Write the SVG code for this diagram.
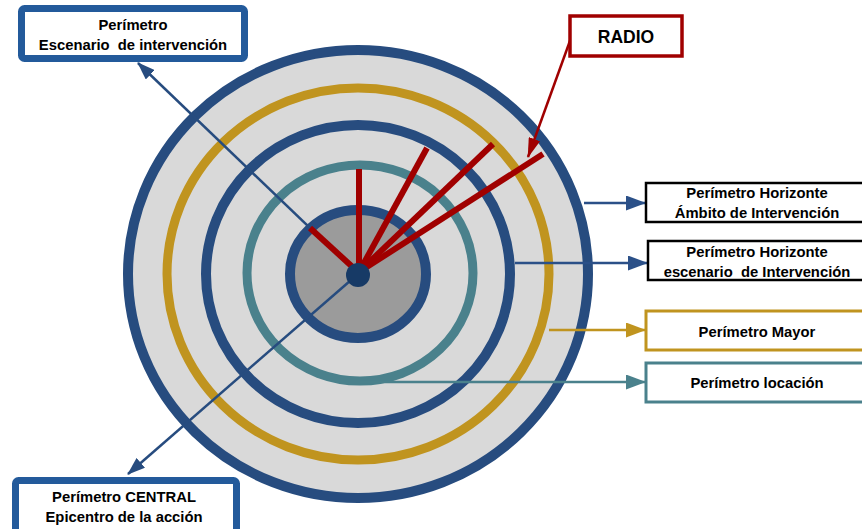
<svg xmlns="http://www.w3.org/2000/svg" width="862" height="529" viewBox="0 0 862 529">
<style>
text{font-family:"Liberation Sans",Arial,sans-serif;font-weight:bold;fill:#000;text-anchor:middle}
.t{font-size:14.8px}
.ring{fill:none}
.blue{stroke:#274c7f}
.conn{fill:none;stroke-width:2.5}
.red{stroke:#a00000;stroke-width:6;stroke-linecap:butt}
</style>
<defs>
<marker id="ab" viewBox="0 0 18 13" refX="17" refY="6.5" markerWidth="18" markerHeight="13" orient="auto" markerUnits="userSpaceOnUse"><path d="M0,0L18,6.5L0,13z" fill="#274c7f"/></marker>
<marker id="ab2" viewBox="0 0 20 15" refX="19" refY="7.5" markerWidth="20" markerHeight="15" orient="auto" markerUnits="userSpaceOnUse"><path d="M0,0L20,7.5L0,15z" fill="#2b5088"/></marker>
<marker id="ag" viewBox="0 0 20 15" refX="19" refY="7.5" markerWidth="20" markerHeight="15" orient="auto" markerUnits="userSpaceOnUse"><path d="M0,0L20,7.5L0,15z" fill="#c0941f"/></marker>
<marker id="at" viewBox="0 0 20 15" refX="19" refY="7.5" markerWidth="20" markerHeight="15" orient="auto" markerUnits="userSpaceOnUse"><path d="M0,0L20,7.5L0,15z" fill="#4a818c"/></marker>
<marker id="ar" viewBox="0 0 20 12" refX="19" refY="6" markerWidth="20" markerHeight="12" orient="auto" markerUnits="userSpaceOnUse"><path d="M0,0L20,6L0,12z" fill="#a00000"/></marker>
</defs>

<g id="target">
<ellipse cx="358" cy="274" rx="230" ry="224" fill="#d9d9d9" stroke="#274c7f" stroke-width="10"/>
<ellipse class="ring" cx="358" cy="274" rx="191" ry="186" stroke="#c0941f" stroke-width="9"/>
<ellipse class="ring blue" cx="358" cy="274" rx="152" ry="149" stroke-width="10"/>
<ellipse class="ring" cx="360" cy="273" rx="113" ry="108" stroke="#4a818c" stroke-width="9"/>
<ellipse cx="358" cy="274" rx="68" ry="64" fill="#9b9b9b" stroke="#274c7f" stroke-width="10"/>
</g>

<g id="connectors">
<line class="conn blue" x1="358" y1="274" x2="138" y2="63" marker-end="url(#ab)"/>
<line class="conn blue" x1="358" y1="274" x2="128" y2="474" marker-end="url(#ab)"/>
<line class="conn" stroke="#2b5088" stroke-width="3" x1="584" y1="203" x2="645" y2="203" marker-end="url(#ab2)"/>
<line class="conn" stroke="#2b5088" stroke-width="3" x1="515" y1="263" x2="647" y2="263" marker-end="url(#ab2)"/>
<line class="conn" stroke="#c0941f" stroke-width="3" x1="549" y1="330" x2="645" y2="330" marker-end="url(#ag)"/>
<line class="conn" stroke="#4a818c" stroke-width="3" x1="360" y1="382" x2="645" y2="382" marker-end="url(#at)"/>
<line class="conn" stroke="#a00000" stroke-width="3" x1="571" y1="38" x2="528" y2="157" marker-end="url(#ar)"/>
</g>

<g id="radios">
<line class="red" x1="358" y1="272" x2="310" y2="228"/>
<line class="red" x1="359" y1="272" x2="359" y2="169"/>
<line class="red" x1="359" y1="272" x2="427" y2="148"/>
<line class="red" x1="359" y1="272" x2="493" y2="144"/>
<line class="red" x1="359" y1="272" x2="543" y2="154"/>
<ellipse cx="358" cy="275" rx="12" ry="12" fill="#173a66"/>
</g>

<g id="perimetro-escenario">
<rect x="21.5" y="8.5" width="223" height="50" rx="3" fill="#fff" stroke="#235a9b" stroke-width="7"/>
<text class="t" x="133" y="30">Perímetro</text>
<text class="t" x="133" y="50" xml:space="preserve">Escenario  de intervención</text>
</g>

<g id="radio">
<rect x="570" y="16" width="112" height="40" fill="#fff" stroke="#a00000" stroke-width="3.5"/>
<text x="626" y="43" font-size="17.5">RADIO</text>
</g>

<g id="perimetro-horizonte-ambito">
<rect x="646" y="183" width="222" height="39" fill="#fff" stroke="#000" stroke-width="2.5"/>
<text class="t" x="757" y="198">Perímetro Horizonte</text>
<text class="t" x="757" y="218">Ámbito de Intervención</text>
</g>

<g id="perimetro-horizonte-escenario">
<rect x="648" y="241" width="222" height="39" fill="#fff" stroke="#000" stroke-width="2.5"/>
<text class="t" x="757" y="257">Perímetro Horizonte</text>
<text class="t" x="757" y="277" xml:space="preserve">escenario  de Intervención</text>
</g>

<g id="perimetro-mayor">
<rect x="646" y="311" width="222" height="39" fill="#fff" stroke="#c0941f" stroke-width="3"/>
<text class="t" x="757" y="337">Perímetro Mayor</text>
</g>

<g id="perimetro-locacion">
<rect x="646" y="363" width="222" height="39" fill="#fff" stroke="#4a818c" stroke-width="3"/>
<text class="t" x="757" y="388">Perímetro locación</text>
</g>

<g id="perimetro-central">
<rect x="15.5" y="480.5" width="221" height="55" rx="3" fill="#fff" stroke="#235a9b" stroke-width="7"/>
<text class="t" x="124" y="502">Perímetro CENTRAL</text>
<text class="t" x="124" y="522">Epicentro de la acción</text>
</g>
</svg>
